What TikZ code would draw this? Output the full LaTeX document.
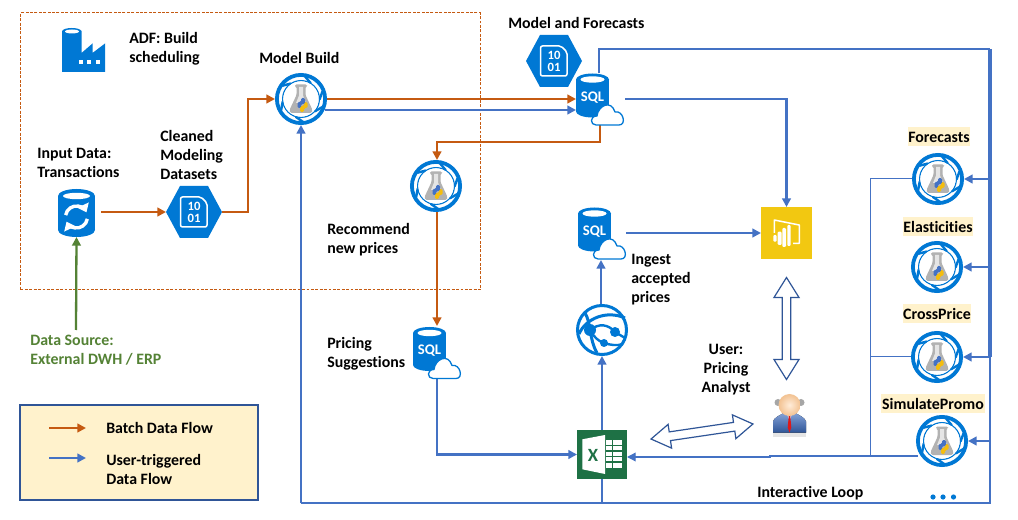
\documentclass[tikz,border=0pt]{standalone}
\usepackage{fontspec}
\setmainfont[Ligatures=CommonOff]{Carlito}
\usetikzlibrary{arrows.meta,calc}
\definecolor{flowblue}{HTML}{4472C4}
\definecolor{floworange}{HTML}{C55A11}
\definecolor{flowgreen}{HTML}{548235}
\definecolor{azure}{HTML}{0078D4}
\definecolor{labelbg}{HTML}{FFF2CC}
\definecolor{legendline}{HTML}{2F5597}
\definecolor{pbi}{HTML}{F2C811}
\definecolor{xlgreen}{HTML}{1E7145}
\tikzset{
  px/.style={line width=#1*0.75pt},
  iconbox/.style 2 args={inner sep=0pt,outer sep=0pt,minimum width=#1*0.75pt,minimum height=#2*0.75pt},
  tip/.style={-{Triangle[length=6.5pt,width=6.5pt]}},
  batch/.style={draw=floworange,px=2.3,tip},
  usertrig/.style={draw=flowblue,px=2.3,tip},
  bluewire/.style={draw=flowblue,px=2.3},
  thinwire/.style={draw=flowblue,px=1},
  lbl/.style={font=\fontsize{11.9}{14.25}\selectfont\bfseries,align=left,anchor=west,inner sep=0pt,text=black},
  ctrlbl/.style={font=\fontsize{11.9}{14.25}\selectfont\bfseries,align=center,inner sep=0pt,text=black},
  tag/.style={font=\fontsize{11.9}{14.25}\selectfont\bfseries,fill=labelbg,inner sep=0pt,minimum height=14.25pt,text=black},
  hollow/.style={draw=legendline,fill=white,px=1.2,line join=miter},
}
\newcommand{\hollowarrow}[6]{% centre, angle, half length, head length, half head, half shaft
  \begin{scope}[shift={(#1)},rotate=#2]
    \filldraw[hollow] (-#3,0) -- ({-#3+#4},#5) -- ({-#3+#4},#6) -- ({#3-#4},#6) -- ({#3-#4},#5) -- (#3,0)
      -- ({#3-#4},-#5) -- ({#3-#4},-#6) -- ({-#3+#4},-#6) -- ({-#3+#4},-#5) -- cycle;
  \end{scope}}
\newcommand{\flaskart}[1]{%
  \begin{scope}[shift={(#1)}]
    \fill[white] (0,0) circle[radius=26];
    \draw[azure,px=3.8] (0,0) circle[radius=24.1];
    \draw[azure,px=1.2] (0,0) circle[radius=18.4];
    \foreach \a in {20,85,150,215,280,340}{
      \draw[azure,px=2.4] (\a:23) -- (\a+22:18.5);
    }
    \fill[white] (0,0) circle[radius=17.6];
    \fill[gray!60,rounded corners=1pt] (-6,-14.5) -- (6,-14.5) -- (6,-12.5) -- (4.5,-12.5) -- (4.5,-4) -- (11.5,11) -- (10.5,14) -- (-10.5,14) -- (-11.5,11) -- (-4.5,-4) -- (-4.5,-12.5) -- (-6,-12.5) -- cycle;
    \fill[gray!20] (-2,-12) -- (2,-12) -- (2,-3.5) -- (5,4) -- (-5,4) -- (-2,-3.5) -- cycle;
    \fill[pbi!85!orange,rounded corners=1pt] (3,13) -- (-1,13) -- (-1,7) -- (3,7) -- (3,3) -- (6.5,3) -- (6.5,9) -- (3,9) -- cycle;
    \fill[flowblue,rounded corners=1pt] (0,-1) -- (4,-1) -- (4,5) -- (0,5) -- (0,9) -- (-3.5,9) -- (-3.5,3) -- (0,3) -- cycle;
  \end{scope}}
\newcommand{\cloudart}{%
  \draw[azure,fill=white,px=1.3,line join=round]
    (5,22) .. controls (-1,22) and (-1.5,13) .. (6,13)
    .. controls (7,3) and (20,-4) .. (24,9)
    .. controls (32,7) and (36,22) .. (28,22) -- cycle;}
\newcommand{\sqlart}[1]{%
  \begin{scope}[shift={(#1)}]
    \fill[azure] (-16.5,-16) rectangle (16.5,16);
    \fill[azure] (0,-16) ellipse[x radius=16.5,y radius=6];
    \fill[azure] (0,16) ellipse[x radius=16.5,y radius=6];
    \fill[white] (0,-16) ellipse[x radius=12,y radius=3.2];
    \node[inner sep=0pt,text=white,font=\fontsize{11}{11}\selectfont\bfseries] at (0,2) {SQL};
    \begin{scope}[shift={(-1.5,7.5)}]\cloudart\end{scope}
  \end{scope}}
\newcommand{\hexart}[1]{%
  \begin{scope}[shift={(#1)}]
    \fill[azure] (-28,0) -- (-14,-26) -- (14,-26) -- (28,0) -- (14,26) -- (-14,26) -- cycle;
    \draw[white,px=1.5,rounded corners=1.5pt] (-13.5,-15) -- (7,-15) -- (13,-9) -- (13,15) -- (-13.5,15) -- cycle;
    \node[inner sep=0pt,text=white,font=\fontsize{9.5}{9.5}\selectfont\bfseries] at (0,-5.5) {10};
    \node[inner sep=0pt,text=white,font=\fontsize{9.5}{9.5}\selectfont\bfseries] at (0,6.5) {01};
  \end{scope}}
\begin{document}
\begin{tikzpicture}[x=0.75pt,y=-0.75pt]
\useasboundingbox (0,0) rectangle (1018,520);
\fill[white] (0,0) rectangle (1018,520);

% ----- anchors of the icons
\node[iconbox={43}{44}] (adf) at (83.5,50) {};
\node[iconbox={37}{48}] (input) at (76.5,213) {};
\node[iconbox={56}{52}] (clean) at (194,212) {};
\node[iconbox={52}{52}] (model) at (301,99) {};
\node[iconbox={56}{52}] (forecastdata) at (554,61) {};
\node[iconbox={33}{45}] (sqlmodel) at (592.5,95.5) {};
\node[iconbox={52}{52}] (recommend) at (436,186) {};
\node[iconbox={33}{46}] (sqlprice) at (429.5,349) {};
\node[iconbox={33}{45}] (sqlingest) at (594.5,229.5) {};
\node[iconbox={52}{52}] (globe) at (602,330) {};
\node[iconbox={50}{49}] (excel) at (602,454.5) {};
\node[iconbox={51}{52}] (powerbi) at (786.5,233) {};
\node[iconbox={33}{45}] (analyst) at (789.5,414.5) {};
\node[iconbox={52}{52}] (fforecast) at (938,179) {};
\node[iconbox={52}{52}] (felastic) at (937,267) {};
\node[iconbox={52}{52}] (fcross) at (937,357) {};
\node[iconbox={52}{52}] (fpromo) at (942,441) {};

\coordinate (bustop) at (990,49);
\coordinate (busmid) at (990,357);
\coordinate (busbot) at (990,503);
\coordinate (loopleft) at (301,503);
\coordinate (collect) at (870,179);
\coordinate (collectbot) at (870,456);
\coordinate (sourcepoint) at (76,330);

% ----- dashed ADF frame
\node[draw=floworange,px=1,dash pattern=on 2.2pt off 1.1pt,inner sep=0pt,minimum width=459.5*0.75pt,minimum height=277*0.75pt] (adfframe) at (250.25,151.5) {};

% ----- batch flows
\draw[batch] ($(input.east)+(6,-1)$) -- (clean.west);
\draw[batch] (clean.east) -- (248,212) -- (248,99) -- (model.west);
\draw[batch] (model.east) -- (model.east -| sqlmodel.west);
\draw[batch] (600,125) -- (600,142) -- (437,142) -- ($(recommend.north)+(1,0)$);
\draw[batch] ($(recommend.south)+(1,0)$) -- ($(sqlprice.north)+(7.5,0)$);

% ----- user-triggered flows
\draw[usertrig] ($(model.east)+(-2,11)$) -- ($(model.east -| sqlmodel.west)+(0,11)$);
\draw[bluewire] ($(sqlmodel.north)+(6.5,0)$) |- (bustop);
\draw[usertrig] (625,99) -| (powerbi.north);
\draw[usertrig] (626,233) -- (powerbi.west);
\draw[usertrig] (437,378) |- (excel.west);
\draw[usertrig] (excel.north) -- (globe.south);
\draw[usertrig] ($(globe.north)+(-1,0)$) -- (601,260);
\draw[draw=flowblue,px=3.4] (bustop) -- (busmid);
\draw[bluewire] (busmid) -- (busbot) -- (loopleft);
\draw[usertrig] (loopleft) -- (model.south);
\draw[bluewire] (excel.south) -- (602,503);
\draw[usertrig] (990,179) -- (fforecast.east);
\draw[usertrig] (990,267) -- (felastic.east);
\draw[usertrig] (busmid) -- (fcross.east);
\draw[usertrig] (990,441) -- (fpromo.east);
\draw[thinwire] (fforecast.west) -- (collect) -- (collectbot);
\draw[thinwire] (fcross.west) -- (870,357);
\draw[draw=flowblue,px=1.3,tip] ($(fpromo.west)+(2,15)$) -- (collectbot) -- (770,456) -- (770,457) -- ($(excel.east)+(0,2.5)$);
\draw[draw=flowgreen,px=2.3,tip] (sourcepoint) -- (input.south);

% ----- double arrows
\hollowarrow{786.5,328.5}{90}{51}{20}{12.5}{4.2}
\hollowarrow{702,431.5}{8.4}{51.5}{19}{12}{4.4}

% ----- icons
\begin{scope}[shift={(adf.center)}]
  \fill[azure] (-21.5,-19) -- (-21.5,22) -- (21.5,22) -- (21.5,-6.5) -- (9,3) -- (9,-6.5) -- (-2,3) -- (-2,-19) .. controls (-4,-23) and (-19.5,-23) .. (-21.5,-19) -- cycle;
  \fill[white] (-11.5,-18.5) ellipse[x radius=7,y radius=2];
  \fill[white] (-4.5,10) rectangle (-0.5,14);
  \fill[white] (3,10) rectangle (7,14);
  \fill[white] (12.5,10) rectangle (16.5,14);
\end{scope}
\begin{scope}[shift={(input.center)}]
  \fill[azure] (-18.5,-17) rectangle (18.5,17);
  \fill[azure] (0,-17) ellipse[x radius=18.5,y radius=7];
  \fill[azure] (0,17) ellipse[x radius=18.5,y radius=7];
  \fill[white] (0,-17) ellipse[x radius=13.5,y radius=3.2];
  \draw[white,px=3.4,-{Triangle[length=6pt,width=9pt]}] (190:11) ++(0,4) arc[start angle=190,end angle=335,radius=11];
  \draw[white,px=3.4,-{Triangle[length=6pt,width=9pt]}] (10:11) ++(0,4) arc[start angle=10,end angle=155,radius=11];
\end{scope}
\hexart{clean.center}
\hexart{forecastdata.center}
\flaskart{model.center}
\flaskart{recommend.center}
\flaskart{fforecast.center}
\flaskart{felastic.center}
\flaskart{fcross.center}
\flaskart{fpromo.center}
\sqlart{sqlmodel.center}
\sqlart{sqlprice.center}
\sqlart{sqlingest.center}
% globe
\begin{scope}[shift={(globe.center)}]
  \fill[white] (0,0) circle[radius=26];
  \draw[azure,px=3] (0,0) circle[radius=24.5];
  \draw[azure,px=3] (-17,-17) .. controls (-11,-8) and (-13,9) .. (-5,23);
  \draw[azure,px=3] (-23,4) .. controls (-16,-12) and (5,-20) .. (23,-12);
  \draw[azure,px=2.4] (-12,0) .. controls (-3,-7) and (6,-6) .. (13,2);
  \draw[azure,px=2.4] (-12,0) .. controls (-8,7) and (-4,11) .. (2,13);
  \draw[azure,px=2.4] (2,13) .. controls (8,15) and (15,16) .. (21,14);
  \draw[azure,px=2.4] (13,2) -- (23,8);
  \fill[azure] (-12,0) circle[radius=6];
  \fill[azure] (13,2) circle[radius=5];
  \fill[azure] (2,13) circle[radius=4];
\end{scope}
% excel
\fill[xlgreen] (excel.south west) rectangle (excel.north east);
\begin{scope}[shift={(excel.center)}]
  \fill[white] (-19.7,-15.2) -- (3,-19.5) -- (3,19.5) -- (-19.7,14.8) -- cycle;
  \node[inner sep=0pt,text=xlgreen,font=\fontsize{14}{14}\selectfont\bfseries] at (-9,0.5) {X};
  \fill[white] (3.7,-14.5) rectangle (19.7,13.5);
  \foreach \yy in {-9,-3.5,2,7.5}{\draw[xlgreen,px=1.1] (3.7,\yy) -- (19.7,\yy);}
  \draw[xlgreen,px=1.1] (10.5,-14.5) -- (10.5,13.5);
\end{scope}
% power bi
\fill[pbi] (powerbi.south west) rectangle (powerbi.north east);
\begin{scope}[shift={(powerbi.center)}]
  \draw[white,px=1.5,line join=round] (-12.2,0) -- (-12.2,-13) -- (12.8,-8) -- (12.8,10.3) -- (6.5,10.3);
  \fill[white,rounded corners=0.8pt] (-13.2,2) rectangle (-9.8,8.7);
  \fill[white,rounded corners=0.8pt] (-8.8,-1.3) rectangle (-4.8,12);
  \fill[white,rounded corners=0.8pt] (-4.2,-5) rectangle (-0.5,14);
  \fill[white,rounded corners=0.8pt] (0.8,-8) rectangle (4.2,13);
\end{scope}
% analyst
\begin{scope}[shift={(analyst.center)}]
  \fill[black!10] (-16.5,17) rectangle (16.5,22.5);
  \fill[gray!70] (-11.5,-12) circle[radius=3.5];
  \fill[gray!70] (11.5,-12) circle[radius=3.5];
  \fill[top color=flowblue!65!white,bottom color=legendline] (-16.5,18) -- (-16.5,7) .. controls (-16,3) and (-8,0) .. (-5,-2) -- (5,-2) .. controls (8,0) and (16,3) .. (16.5,7) -- (16.5,18) -- cycle;
  \fill[white!85!flowblue] (-3.2,-2) -- (3.2,-2) -- (0,6) -- cycle;
  \fill[red!85!black!90] (-1.4,-1) -- (1.4,-1) -- (0.8,2) -- (1.8,13) -- (0,18) -- (-1.8,13) -- (-0.8,2) -- cycle;
  \shade[inner color=white!85!orange,outer color=orange!40!white!95!black] (0,-9.5) circle[radius=11];
\end{scope}
% dots
\fill[azure] (933,497) circle[radius=2.6];
\fill[azure] (943,497) circle[radius=2.6];
\fill[azure] (953.5,497) circle[radius=2.6];

% ----- labels
\node[lbl] (tadf) at (129,49) {ADF: Build\\scheduling};
\node[lbl] (tmodel) at (259,57.5) {Model Build};
\node[lbl] (tinput) at (37,163) {Input Data:\\Transactions};
\node[lbl] (tclean) at (160,155) {Cleaned\\Modeling\\Datasets};
\node[lbl] (tforecast) at (508,23) {Model and Forecasts};
\node[lbl] (trecommend) at (327,240) {Recommend\\new prices};
\node[lbl] (tprice) at (327,354) {Pricing\\Suggestions};
\node[lbl] (tingest) at (631,279.5) {Ingest\\accepted\\prices};
\node[ctrlbl] (tuser) at (726,370) {User:\\Pricing\\Analyst};
\node[lbl] (tloop) at (757,493.5) {Interactive Loop};
\node[lbl,text=flowgreen] (tsource) at (30,350.5) {Data Source:\\External DWH / ERP};
\node[tag,minimum width=62*0.75pt] (tf) at (939,137) {Forecasts};
\node[tag,minimum width=70*0.75pt] (te) at (938,227) {Elasticities};
\node[tag,minimum width=68*0.75pt] (tc) at (937,314) {CrossPrice};
\node[tag,minimum width=104*0.75pt] (ts) at (933,404) {SimulatePromo};

% ----- legend
\node[draw=legendline,fill=labelbg,px=2,inner sep=0pt,minimum width=238*0.75pt,minimum height=95*0.75pt] (legend) at (139,452.5) {};
\coordinate (lega) at (49,428);
\coordinate (legb) at (86,428);
\coordinate (legc) at (49,458);
\coordinate (legd) at (86,458);
\draw[batch] (lega) -- (legb);
\draw[usertrig] (legc) -- (legd);
\node[lbl] (tbatch) at (106,428) {Batch Data Flow};
\node[lbl] (tuserflow) at (106,469) {User-triggered\\Data Flow};
\end{tikzpicture}
\end{document}
